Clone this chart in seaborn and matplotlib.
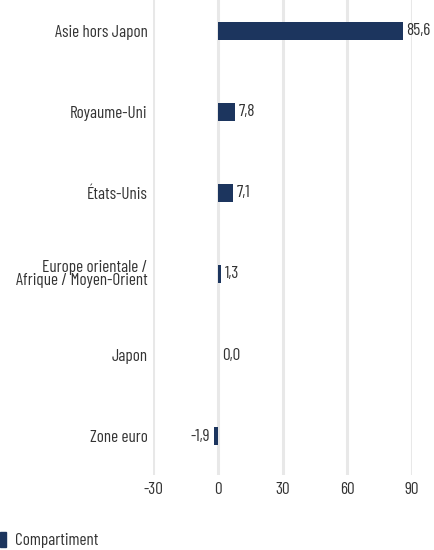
import numpy as np
import pandas as pd
import matplotlib.pyplot as plt
import seaborn as sns

# data
regions = ["Asie hors Japon", "Royaume-Uni", "États-Unis",
           "Europe orientale /\nAfrique / Moyen-Orient", "Japon", "Zone euro"]
values = [85.6, 7.8, 7.1, 1.3, 0.0, -1.9]
ticks = [-30, 0, 30, 60, 90]
series_name = "Compartiment"

df = pd.DataFrame({"Région": regions, "Valeur": values})

sns.set_theme(style="white")
plt.rcParams['font.family'] = ['Barlow Condensed', 'DejaVu Sans']
plt.rcParams['font.weight'] = 'normal'

bar_color = "#1c355e"
text_color = "#333333"
fs = 12.3

fig = plt.figure(figsize=(4.35, 5.5), dpi=100)
ax = fig.add_axes([153/435, 75/550, (412-153)/435, 475/550])

for t in ticks:
    ax.axvline(t, color="#e8e8e8", lw=2.2, zorder=0)

sns.barplot(data=df, x="Valeur", y="Région", color=bar_color, width=0.22,
            saturation=1, linewidth=0, ax=ax, zorder=2)

for i, v in enumerate(values):
    lbl = f"{v:.1f}".replace(".", ",")
    if v < 0:
        ax.text(v - 1.8, i, lbl, ha="right", va="center", fontsize=fs, color=text_color)
    else:
        ax.text(v + 1.8, i, lbl, ha="left", va="center", fontsize=fs, color=text_color)

ax.set_xlim(-30, 90)
ax.set_ylim(5.48, -0.38)
ax.set_xticks(ticks)
ax.set_xticklabels([str(t) for t in ticks], fontsize=fs, color=text_color)
ax.tick_params(axis="y", labelsize=fs, labelcolor=text_color, pad=4, length=0)
ax.tick_params(axis="x", pad=5, length=0)
for lab in ax.get_yticklabels():
    lab.set_multialignment("right")
    lab.set_linespacing(0.8)
ax.set_xlabel("")
ax.set_ylabel("")
sns.despine(ax=ax, left=True, bottom=True)

# legend
fig.patches.append(plt.Rectangle((0, 3/550), 6/435, 15/550, transform=fig.transFigure,
                                 color=bar_color, figure=fig))
fig.text(15/435, 10/550, series_name, fontsize=fs, color=text_color, va="center", ha="left")

fig.savefig("out.png", dpi=100)
